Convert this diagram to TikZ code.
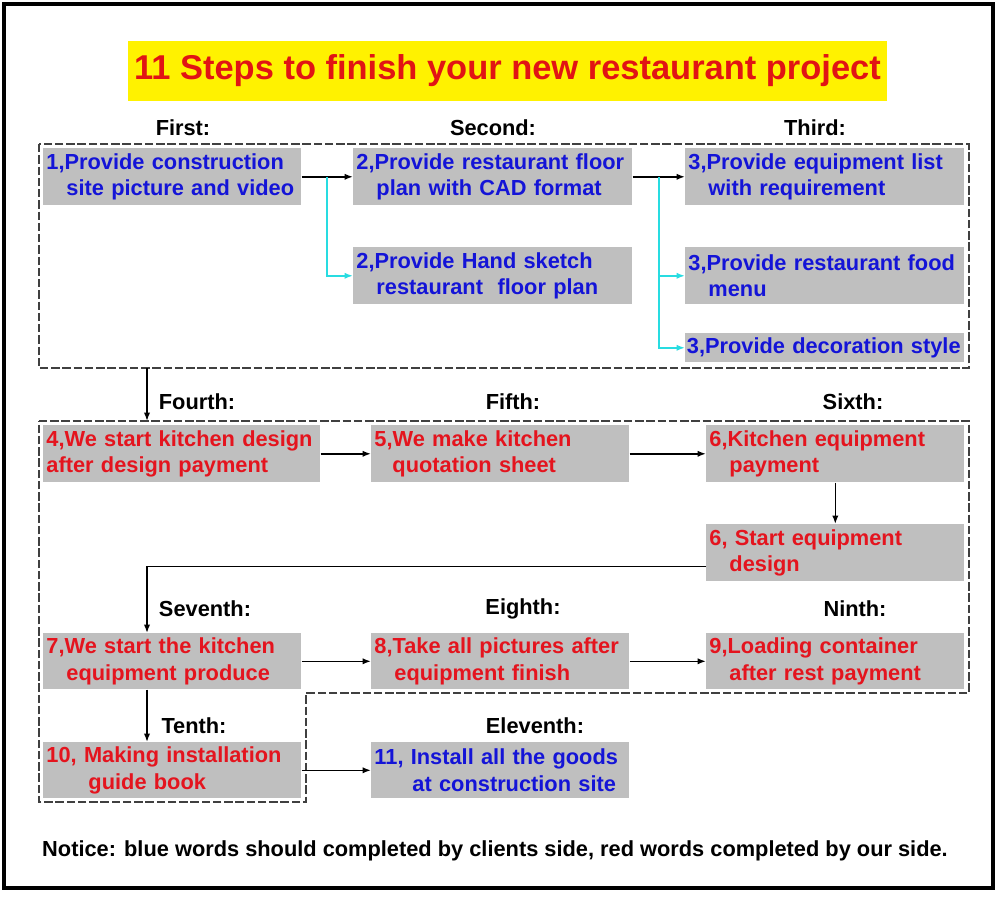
\documentclass[tikz,border=0pt]{standalone}
\usepackage{fontspec}
\setmainfont{Liberation Sans}
\usetikzlibrary{arrows.meta, positioning, calc}
\definecolor{boxgray}{RGB}{191,191,191}
\definecolor{client}{RGB}{20,20,215}
\definecolor{ours}{RGB}{228,20,30}
\definecolor{branch}{RGB}{40,220,225}
\definecolor{titlered}{RGB}{225,20,20}

\begin{document}
\begin{tikzpicture}[x=0.025cm, y=-0.025cm,
  stepbox/.style={fill=boxgray, anchor=north west, inner xsep=0.08cm, inner ysep=0pt,
    align=left, text width=6.29cm, minimum height=1.425cm,
    font=\bfseries\fontsize{15.5}{19}\selectfont},
  widebox/.style={stepbox, text width=6.815cm},
  steplabel/.style={font=\bfseries\fontsize{15.5}{19}\selectfont},
  arr/.style={-{Latex[length=6pt,width=4.5pt]}, line width=1.1pt},
  cyanarr/.style={arr, draw=branch, line width=1.2pt},
  frame/.style={draw=black!75, line width=0.8pt, dash pattern=on 6pt off 2pt}]
  \useasboundingbox (0,0) rectangle (1000,897);
  \draw[line width=2.2pt] (4,4) rectangle (993,888);
  % Title
  \node[fill=yellow, text=titlered, minimum width=18.975cm, minimum height=1.5cm,
    font=\bfseries\fontsize{24.5}{28}\selectfont] (title) at (507.5,71)
    {11 Steps to finish your new restaurant project};
  % First to third
  \draw[frame] (39,144) rectangle (969,368);
  \node[steplabel] (lFirst) at (183,128) {First:};
  \node[steplabel] (lSecond) at (493,128) {Second:};
  \node[steplabel] (lThird) at (815,128) {Third:};
  \node[stepbox, text=client] (b1) at (43,148) {1,Provide construction\\\hspace*{0.5cm}site picture and video};
  \node[widebox, text=client] (b2) at (353,148) {2,Provide restaurant floor\\\hspace*{0.5cm}plan with CAD format};
  \node[widebox, text=client] (b2h) at (353,247) {2,Provide Hand sketch\\\hspace*{0.5cm}restaurant \ floor plan};
  \node[widebox, text=client] (b3a) at (685,148) {3,Provide equipment list\\\hspace*{0.5cm}with requirement};
  \node[widebox, text=client] (b3b) at (685,247) {3,Provide restaurant food\\\hspace*{0.5cm}menu};
  \node[widebox, text=client, minimum height=0.725cm, inner xsep=0.04cm, text width=6.895cm] (b3c) at (685,333) {3,Provide decoration style};
  \coordinate (j1) at ($(b1.east)!0.5!(b2.west)$);
  \coordinate (j2) at ($(b2.east)!0.5!(b3a.west)$);
  \draw[arr] (b1) -- (b2);
  \draw[arr] (b2) -- (b3a);
  \draw[cyanarr] (j1) |- (b2h.west);
  \draw[cyanarr] (j2) |- (b3b.west);
  \draw[cyanarr] (j2) |- (b3c.west);
  % Fourth to eleventh
  \coordinate (f1out) at (147,368);
  \coordinate (f2in) at (147,421);
  \draw[arr] (f1out) -- (f2in);
  \draw[frame] (39,421) -- (969,421) -- (969,693) -- (306,693) -- (306,802) -- (39,802) -- cycle;
  \node[steplabel] (lFourth) at (197,402) {Fourth:};
  \node[steplabel] (lFifth) at (513,402) {Fifth:};
  \node[steplabel] (lSixth) at (853,402) {Sixth:};
  \node[stepbox, text=ours, text width=6.765cm] (b4) at (43,425) {4,We start kitchen design\\after design payment};
  \node[stepbox, text=ours] (b5) at (371,425) {5,We make kitchen\\\hspace*{0.45cm}quotation sheet};
  \node[stepbox, text=ours] (b6) at (706,425) {6,Kitchen equipment\\\hspace*{0.5cm}payment};
  \node[stepbox, text=ours] (b6d) at (706,524) {6, Start equipment\\\hspace*{0.5cm}design};
  \draw[arr] (b4) -- (b5);
  \draw[arr] (b5) -- (b6);
  \draw[arr] (b6) -- (b6d);
  \node[steplabel] (lSeventh) at (205,609) {Seventh:};
  \node[steplabel] (lEighth) at (523,609) {Eighth:};
  \node[steplabel] (lNinth) at (855,609) {Ninth:};
  \node[stepbox, text=ours, minimum height=1.4cm] (b7) at (43,633) {7,We start the kitchen\\\hspace*{0.5cm}equipment produce};
  \node[stepbox, text=ours, minimum height=1.4cm] (b8) at (371,633) {8,Take all pictures after\\\hspace*{0.5cm}equipment finish};
  \node[stepbox, text=ours, minimum height=1.4cm] (b9) at (706,633) {9,Loading container\\\hspace*{0.5cm}after rest payment};
  \draw[arr] ($(b6d.south west)+(0,-15)$) -| ($(b7.north west)+(104,0)$);
  \draw[arr] (b7) -- (b8);
  \draw[arr] (b8) -- (b9);
  \node[steplabel] (lTenth) at (194,726) {Tenth:};
  \node[steplabel] (lEleventh) at (535,726) {Eleventh:};
  \node[stepbox, text=ours, minimum height=1.4cm] (b10) at (43,742) {10, Making installation\\\hspace*{1.05cm}guide book};
  \node[stepbox, text=client, minimum height=1.4cm] (b11) at (371,742) {11, Install all the goods\\\hspace*{0.95cm}at construction site};
  \draw[arr] ($(b7.south west)+(104,0)$) -- ($(b10.north west)+(104,0)$);
  \draw[arr] (b10) -- (b11);
  % Notice
  \node[steplabel] (notice) at (495,851) {Notice: blue words should completed by clients side, red words completed by our side.};
\end{tikzpicture}
\end{document}
